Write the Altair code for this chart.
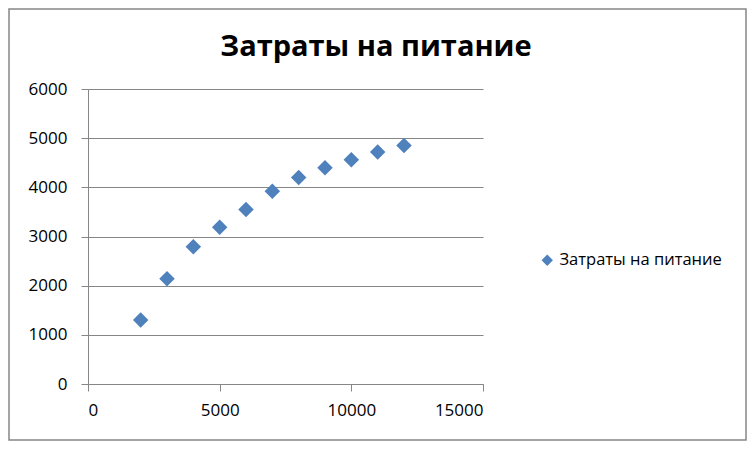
import altair as alt
import pandas as pd

title_text = "Затраты на питание"
series_name = "Затраты на питание"
x_vals = [2000, 3000, 4000, 5000, 6000, 7000, 8000, 9000, 10000, 11000, 12000]
y_vals = [1300, 2140, 2790, 3190, 3550, 3920, 4200, 4400, 4560, 4720, 4850]
x_ticks = [0, 5000, 10000, 15000]
y_ticks = [0, 1000, 2000, 3000, 4000, 5000, 6000]

df = pd.DataFrame({"x": x_vals, "y": y_vals, "series": [series_name] * len(x_vals)})

W, H = 395, 295
TOTAL_W, TOTAL_H = 739, 433
PAD_L, PAD_T = 80, 81
GRAY = "#868686"
FONT = "Open Sans"

points = alt.Chart(df).mark_point(filled=True, shape="diamond", size=240, opacity=1).encode(
    x=alt.X("x:Q", scale=alt.Scale(domain=[0, 15000], nice=False),
            axis=alt.Axis(values=x_ticks, title=None, grid=False, domainColor=GRAY,
                          tickColor=GRAY, tickSize=7, labelPadding=11, labelFont=FONT,
                          labelFontSize=17, labelColor="#000000", format="d")),
    y=alt.Y("y:Q", scale=alt.Scale(domain=[0, 6000], nice=False),
            axis=alt.Axis(values=y_ticks, title=None, grid=True, gridColor=GRAY,
                          domainColor=GRAY, tickColor=GRAY, tickSize=7, labelPadding=14,
                          labelFont=FONT, labelFontSize=17, labelColor="#000000", format="d")),
    color=alt.Color("series:N", scale=alt.Scale(range=["#4F81BD"]),
                    legend=alt.Legend(title=None, orient="none", legendX=451, legendY=163,
                                      symbolType="diamond", symbolSize=130, labelLimit=400,
                                      labelFont=FONT, labelFontSize=16.5, labelColor="#000000",
                                      symbolStrokeWidth=0)),
)

border = alt.Chart(alt.Data(values=[{}])).mark_rect(
    fill="transparent", stroke=GRAY, strokeWidth=1.5, clip=False
).encode(
    x=alt.value(-PAD_L + 1),
    x2=alt.value(TOTAL_W - PAD_L - 1),
    y=alt.value(-PAD_T + 1),
    y2=alt.value(TOTAL_H - PAD_T - 1),
)

title = alt.Chart(alt.Data(values=[{}])).mark_text(
    text=title_text, font=FONT, fontSize=29, fontWeight="bold", color="#000000",
    align="center", baseline="alphabetic", clip=False
).encode(
    x=alt.value(376 - 8 - PAD_L),
    y=alt.value(56 - 8 - PAD_T),
)

chart = alt.layer(points, border, title).properties(
    width=W, height=H,
    padding={"left": PAD_L, "top": PAD_T, "right": TOTAL_W - PAD_L - W, "bottom": TOTAL_H - PAD_T - H},
    autosize=alt.AutoSizeParams(type="none"),
).configure_view(stroke=None)

chart.save("out.html", embed_options={"renderer": "svg", "actions": False})
